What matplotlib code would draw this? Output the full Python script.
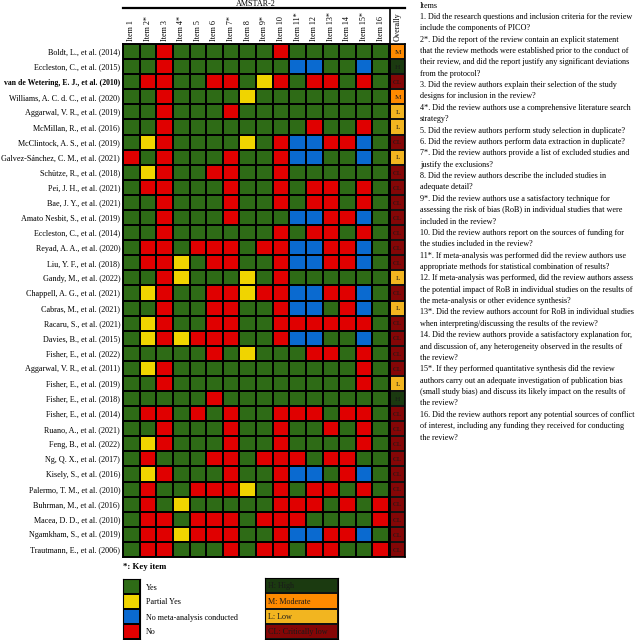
import numpy as np
import matplotlib.pyplot as plt
from matplotlib.colors import ListedColormap

plt.rcParams['font.family'] = ['Liberation Serif', 'DejaVu Serif']

W, H = 638, 640

studies = [
    'Boldt, L., et al. (2014)', 'Eccleston, C., et al. (2015)',
    'van de Wetering, E. J., et al. (2010)', 'Williams, A. C. d. C., et al. (2020)',
    'Aggarwal, V. R., et al. (2019)', 'McMillan, R., et al. (2016)',
    'McClintock, A. S., et al. (2019)', 'Galvez-Sánchez, C. M., et al. (2021)',
    'Schütze, R., et al. (2018)', 'Pei, J. H., et al. (2021)',
    'Bae, J. Y., et al. (2021)', 'Amato Nesbit, S., et al. (2019)',
    'Eccleston, C., et al. (2014)', 'Reyad, A. A., et al. (2020)',
    'Liu, Y. F., et al. (2018)', 'Gandy, M., et al. (2022)',
    'Chappell, A. G., et al. (2021)', 'Cabras, M., et al. (2021)',
    'Racaru, S., et al. (2021)', 'Davies, B., et al. (2015)',
    'Fisher, E., et al. (2022)', 'Aggarwal, V. R., et al. (2011)',
    'Fisher, E., et al. (2019)', 'Fisher, E., et al. (2018)',
    'Fisher, E., et al. (2014)', 'Ruano, A., et al. (2021)',
    'Feng, B., et al. (2022)', 'Ng, Q. X., et al. (2017)',
    'Kisely, S., et al. (2016)', 'Palermo, T. M., et al. (2010)',
    'Buhrman, M., et al. (2016)', 'Macea, D. D., et al. (2010)',
    'Ngamkham, S., et al. (2019)', 'Trautmann, E., et al. (2006)',
]
items = ['Item 1', 'Item 2*', 'Item 3', 'Item 4*', 'Item 5', 'Item 6', 'Item 7*', 'Item 8',
         'Item 9*', 'Item 10', 'Item 11*', 'Item 12', 'Item 13*', 'Item 14', 'Item 15*', 'Item 16']

# G = yes, Y = partial yes, B = no meta-analysis conducted, R = no
ratings = [
    'GGRGGGGGGRGGGGGG', 'GGRGGGGGGGBBGGBG', 'GRRGGRRGYRGRRGRG', 'GGRGGGGYGGGGGGGG',
    'GGRGGGRGGGGGGGGG', 'GGRGGGGGGGGRGGRG', 'GYRGGGGYGRBBRRBG', 'RGRGGGRGGRBBGGBG',
    'GYRGGRRGGRGGGGGG', 'GRRGGGRGGRGRRGRG', 'GGRGGGRGGRGRRGRG', 'GGRGGGRGGGBBRRBG',
    'GGRGGGGGGRGRRGRG', 'GRRGRRRGRRBBRRBG', 'GRRYGRRGGRBBRRBG', 'GGRYGGGYGRGGGGGG',
    'GYRGGRRYRRBBRRBG', 'GGRGGRRGGRBBGRBG', 'GYRGGRRGGRRRRRRG', 'GYRYRRRGGRBBGGBG',
    'GGGGGRGYGGGRRGRG', 'GYRGGGGGGGGGGGRG', 'GGRGGGGGGGGGGGRG', 'GGGGGRGGGGGGGGGG',
    'GRRGRGRGGRRRGRRG', 'GGRGGGRGGRGGRGRG', 'GYRGGGRGGRGGGGRG', 'GRGGGRRGRRRGRRGG',
    'GYRGGGRGGRBBGRBG', 'GRGGRRRYGRGRRGRG', 'GRGYGGGGGRRRGRGR', 'GRRGRRRGRRRGGGGR',
    'GRRYRRRGGRBBRRBG', 'GRRGGGRGRRGRRGGR',
]
overall = ['M', 'H', 'CL', 'M', 'L', 'L', 'CL', 'L', 'CL', 'CL', 'CL', 'CL', 'CL', 'CL',
           'CL', 'L', 'CL', 'L', 'CL', 'CL', 'CL', 'CL', 'L', 'H', 'CL', 'CL', 'CL', 'CL',
           'CL', 'CL', 'CL', 'CL', 'CL', 'CL']

rating_codes = ['G', 'Y', 'B', 'R']
rating_names = ['Yes', 'Partial Yes', 'No meta-analysis conducted', 'No']
rating_colors = ['#2e6b16', '#f0d400', '#0a6ad0', '#e00000']

overall_codes = ['H', 'M', 'L', 'CL']
overall_names = ['H: High', 'M: Moderate', 'L: Low', 'CL: Critically low']
overall_colors = ['#1b3a10', '#ff8a00', '#f2b520', '#850606']

questions = [
    'Items',
    '1. Did the research questions and inclusion criteria for the review',
    'include the components of PICO?',
    '2*. Did the report of the review contain an explicit statement',
    'that the review methods were established prior to the conduct of',
    'their review, and did the report justify any significant deviations',
    'from the protocol?',
    '3. Did the review authors explain their selection of the study',
    'designs for inclusion in the review?',
    '4*. Did the review authors use a comprehensive literature search',
    'strategy?',
    '5. Did the review authors perform study selection in duplicate?',
    '6. Did the review authors perform data extraction in duplicate?',
    '7*. Did the review authors provide a list of excluded studies and',
    'justify the exclusions?',
    '8. Did the review authors describe the included studies in',
    'adequate detail?',
    '9*. Did the review authors use a satisfactory technique for',
    'assessing the risk of bias (RoB) in individual studies that were',
    'included in the review?',
    '10. Did the review authors report on the sources of funding for',
    'the studies included in the review?',
    '11*. If meta-analysis was performed did the review authors use',
    'appropriate methods for statistical combination of results?',
    '12. If meta-analysis was performed, did the review authors assess',
    'the potential impact of RoB in individual studies on the results of',
    'the meta-analysis or other evidence synthesis?',
    '13*. Did the review authors account for RoB in individual studies',
    'when interpreting/discussing the results of the review?',
    '14. Did the review authors provide a satisfactory explanation for,',
    'and discussion of, any heterogeneity observed in the results of',
    'the review?',
    '15*. If they performed quantitative synthesis did the review',
    'authors carry out an adequate investigation of publication bias',
    '(small study bias) and discuss its likely impact on the results of',
    'the review?',
    '16. Did the review authors report any potential sources of conflict',
    'of interest, including any funding they received for conducting',
    'the review?',
]


def rect(x0, y0, x1, y1):
    # pixel box (top-left origin) -> figure fraction
    return [x0 / W, 1 - y1 / H, (x1 - x0) / W, (y1 - y0) / H]


fs = 5.9
fig = plt.figure(figsize=(W / 100, H / 100), dpi=100)

# main grid
grid = np.array([[rating_codes.index(c) for c in row] for row in ratings])
ax = fig.add_axes(rect(123, 44, 389, 557))
ax.pcolormesh(grid, cmap=ListedColormap(rating_colors), vmin=-0.5, vmax=3.5,
              edgecolors='black', linewidth=1.4)
ax.set_ylim(len(studies), 0)
ax.set_yticks(np.arange(len(studies)) + 0.5)
ax.set_yticklabels(studies, fontsize=fs)
bold_lbl = ax.get_yticklabels()[2]
bold_lbl.set_fontweight('bold')
bold_lbl.set_fontsize(fs - 0.35)
ax.xaxis.tick_top()
ax.set_xticks(np.arange(len(items)) + 0.5)
ax.set_xticklabels(items, rotation=90, fontsize=fs)
ax.tick_params(length=0, pad=2)
for s in ax.spines.values():
    s.set_linewidth(1.4)

# overall column
ov = np.array([[overall_codes.index(c)] for c in overall])
ax2 = fig.add_axes(rect(390.5, 44, 405, 557))
ax2.pcolormesh(ov, cmap=ListedColormap(overall_colors), vmin=-0.5, vmax=3.5,
               edgecolors='#111111', linewidth=1.2)
ax2.set_ylim(len(overall), 0)
for i, c in enumerate(overall):
    ax2.text(0.5, i + 0.55, c, ha='center', va='center', fontsize=fs - 0.7, color='#1a1a1a')
ax2.set_yticks([])
ax2.xaxis.tick_top()
ax2.set_xticks([0.5])
ax2.set_xticklabels(['Overally'], rotation=90, fontsize=fs)
ax2.tick_params(length=0, pad=2)
for s in ax2.spines.values():
    s.set_linewidth(1.2)

# header frame with AMSTAR-2 title
hd = fig.add_axes(rect(123, 8, 405, 44))
hd.patch.set_alpha(0)
hd.set_xlim(123, 405)
hd.set_xticks([])
hd.set_yticks([])
for k in ['left', 'right', 'bottom']:
    hd.spines[k].set_visible(False)
hd.spines['top'].set_linewidth(1.6)
hd.axvline(389.7, color='black', linewidth=1.2)
fig.text(256 / W, 1 - 4.5 / H, 'AMSTAR-2', ha='center', va='center', fontsize=fs)

# item questions on the right
for k, line in enumerate(questions):
    fig.text(420 / W, 1 - (5.5 + k * 11.37) / H, line, ha='left', va='center', fontsize=fs)

# key
fig.text(123 / W, 1 - 567 / H, '*: Key item', ha='left', va='center', fontsize=fs + 0.4,
         fontweight='bold')

lg = fig.add_axes(rect(123, 579, 140, 639))
lg.pcolormesh(np.arange(4).reshape(4, 1), cmap=ListedColormap(rating_colors), vmin=-0.5,
              vmax=3.5, edgecolors='black', linewidth=1.4)
lg.set_ylim(4, 0)
lg.set_xticks([])
lg.yaxis.tick_right()
lg.set_yticks(np.arange(4) + 0.5)
lg.set_yticklabels(rating_names, fontsize=fs)
lg.tick_params(length=0, pad=4)

lg2 = fig.add_axes(rect(265, 578, 338, 639))
lg2.pcolormesh(np.arange(4).reshape(4, 1), cmap=ListedColormap(overall_colors), vmin=-0.5,
               vmax=3.5, edgecolors='#111111', linewidth=1.4)
lg2.set_ylim(4, 0)
lg2.set_xticks([])
lg2.set_yticks([])
for i, name in enumerate(overall_names):
    lg2.text(0.04, i + 0.55, name, ha='left', va='center', fontsize=fs, color='#1a1a1a')

fig.savefig('out.png', dpi=100)
